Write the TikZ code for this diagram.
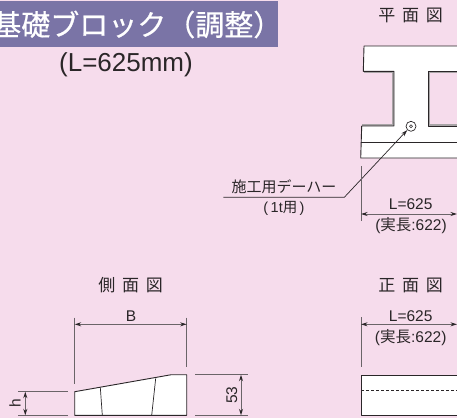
\documentclass[tikz,border=0pt]{standalone}
\usepackage{fontspec}
\setmainfont{Liberation Sans}
\newfontfamily\cjk{Noto Sans CJK JP}
\newfontfamily\cjkb{Noto Sans CJK JP}[FakeBold=0.6]
\usetikzlibrary{arrows.meta}
\definecolor{bgpink}{HTML}{F6DCEC}
\definecolor{barblue}{HTML}{7A74A6}
\definecolor{inkc}{HTML}{2A2628}
\definecolor{dimc}{HTML}{6A6468}
\definecolor{shadec}{HTML}{A8A4A6}
\tikzset{
 lbl/.style={inner sep=0pt,text=inkc,font=\fontsize{15.5}{17}\selectfont},
 headlbl/.style={inner sep=0pt,text=inkc,font=\cjk\fontsize{17}{19}\selectfont},
 extline/.style={draw=dimc,line width=1pt},
 dimline/.style={draw=dimc,line width=0.9pt,{Stealth[length=6.5pt,width=4pt,color=inkc]}-{Stealth[length=6.5pt,width=4pt,color=inkc]}},
 body/.style={draw=inkc,line width=0.9pt,fill=white,line join=round},
 thin/.style={draw=inkc,line width=0.7pt}
}
\begin{document}
\begin{tikzpicture}[x=1pt,y=-1pt]
\useasboundingbox (0,0) rectangle (457,418);
\fill[bgpink] (0,0) rectangle (457,418);
% title
\fill[barblue] (0,1) rectangle (278,47);
\node[inner sep=0pt,anchor=east,text=white,font=\cjkb\fontsize{29}{31}\selectfont] (title) at (282.5,24.5) {基礎ブロック（調整）};
\node[inner sep=0pt,text=inkc,font=\fontsize{26}{28}\selectfont] (sub) at (126,64.5) {(L=625mm)};
% plan
\node[headlbl] (planh) at (410.7,15.7) {平\hspace{0.4em}面\hspace{0.4em}図};
\fill[white] (364,46) -- (457,46) -- (457,71.3) -- (428,71.3) -- (428,126) -- (457,126) -- (457,158) -- (360.7,158) -- (361.7,126) -- (394,126) -- (394,71.3) -- (363.3,71.3) -- cycle;
\draw[shadec,line width=2pt] (364,72.3) -- (393,72.3) -- (393,125) -- (362,125);
\draw[shadec,line width=2pt] (457,72.3) -- (429,72.3) -- (429,125) -- (457,125);
\draw[inkc,line width=0.9pt,line join=round] (457,46) -- (364,46) -- (363.3,71.3) -- (394,71.3) -- (394,126) -- (361.7,126) -- (360.7,158) -- (457,158);
\draw[inkc,line width=0.9pt,line join=round] (457,71.3) -- (428,71.3) -- (428,126) -- (457,126);
\draw[thin,line width=0.9pt] (360.9,142.3) -- (457,142.3);
\node[circle,draw=inkc,line width=0.7pt,fill=white,minimum size=10pt,inner sep=0pt] (dowel) at (411,126.3) {};
\node[circle,draw=inkc,line width=0.6pt,minimum size=3pt,inner sep=0pt] (dowelin) at (411,126.3) {};
\coordinate (ls) at (223.3,197.3);
\coordinate (lk) at (344.3,197.3);
\node[lbl,font=\cjk\fontsize{15}{17}\selectfont] (dl) at (284,186.7) {施工用デーハー};
\node[lbl,font=\fontsize{14.5}{16}\selectfont] (dl3) at (284,208) {(\,1t{\cjk 用}\,)};
\draw[thin,-{Stealth[length=6.5pt,width=4pt]}] (ls) -- (lk) -- (dowel.south west);
\coordinate (pe1) at (361,166);
\coordinate (pe2) at (361,220.7);
\draw[extline] (pe1) -- (pe2);
\coordinate (pa) at (361,214);
\coordinate (pb) at (457,214);
\draw[dimline] (pa) -- (pb);
\node[lbl] (pl) at (410.7,204.5) {L=625};
\node[lbl] (pr) at (411,226) {({\cjk 実長}:622)};
% side
\node[headlbl] (sideh) at (130.7,285) {側\hspace{0.4em}面\hspace{0.4em}図};
\draw[body] (74.7,391.7) -- (171.3,374.7) -- (186.7,374.7) -- (186.7,415.3) -- (74.7,415.3) -- cycle;
\draw[thin] (100.3,387.3) -- (102.3,415.3);
\draw[thin] (155.7,378.3) -- (151.7,415.3);
\coordinate (se1a) at (74.7,317.7); \coordinate (se1b) at (74.7,384);
\coordinate (se2a) at (186.7,317.7); \coordinate (se2b) at (186.7,367.3);
\draw[extline] (se1a) -- (se1b);
\draw[extline] (se2a) -- (se2b);
\coordinate (sa) at (74.7,324.3); \coordinate (sb) at (186.7,324.3);
\draw[dimline] (sa) -- (sb);
\node[lbl] (bl) at (131,315.7) {B};
\coordinate (h1a) at (18.3,391.7); \coordinate (h1b) at (67.7,391.7);
\coordinate (h2a) at (18.3,415.3); \coordinate (h2b) at (67.7,415.3);
\draw[extline] (h1a) -- (h1b);
\draw[extline] (h2a) -- (h2b);
\coordinate (ha) at (25.3,391.7); \coordinate (hb) at (25.3,415.3);
\draw[dimline] (ha) -- (hb);
\node[lbl,rotate=90] (hl) at (15,403) {h};
\coordinate (r1a) at (195,374.7); \coordinate (r1b) at (248.3,374.7);
\coordinate (r2a) at (195,415.3); \coordinate (r2b) at (248.3,415.3);
\draw[extline] (r1a) -- (r1b);
\draw[extline] (r2a) -- (r2b);
\coordinate (ra) at (241,374.7); \coordinate (rb) at (241,415.3);
\draw[dimline] (ra) -- (rb);
\node[lbl,rotate=90] (rl) at (231.7,395) {53};
% front
\node[headlbl] (fronth) at (410.7,285.7) {正\hspace{0.4em}面\hspace{0.4em}図};
\draw[body] (460,375) -- (361,375) -- (361,415.3) -- (460,415.3);
\draw[thin,dash pattern=on 3pt off 2pt] (361,390) -- (457,390);
\coordinate (fe1) at (361,317.3); \coordinate (fe2) at (361,366.7);
\draw[extline] (fe1) -- (fe2);
\coordinate (fa) at (361,324.3); \coordinate (fb) at (457,324.3);
\draw[dimline] (fa) -- (fb);
\node[lbl] (fl) at (410.7,316) {L=625};
\node[lbl] (fr) at (410.7,337.7) {({\cjk 実長}:622)};
\end{tikzpicture}
\end{document}
